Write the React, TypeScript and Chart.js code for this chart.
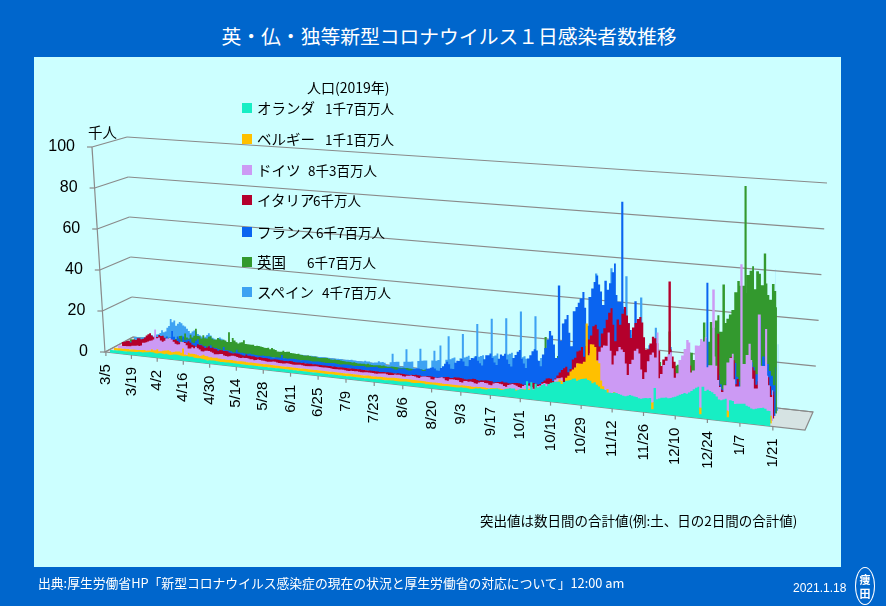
import React, { useEffect, useRef } from "react";
import { Chart, registerables } from "chart.js";

Chart.register(...registerables);

// ===== DATA: daily new cases (thousands), one value per day starting 3/5/2020 (weeks start on Thursday) =====
const nlValues = [
  0.04, 0.07, 0.06, 0.16, 0.08, 0.2, 0.19,
  0.12, 0.19, 0.15, 0.18, 0.28, 0.29, 0.35,
  0.41, 0.53, 0.64, 0.64, 0.55, 0.81, 0.85,
  1.0, 1.2, 1.2, 1.1, 0.85, 0.84, 1.0,
  1.1, 1.0, 0.9, 1.2, 0.95, 0.78, 0.97,
  1.2, 1.3, 1.3, 1.2, 1.0, 0.87, 0.96,
  1.2, 1.1, 1.0, 1.1, 0.75, 0.73, 0.73,
  0.89, 0.66, 0.6, 0.4, 0.17, 0.4, 0.39,
  0.5, 0.45, 0.33, 0.33, 0.2, 0.2, 0.23,
  0.26, 0.32, 0.24, 0.25, 0.2, 0.2, 0.2,
  0.19, 0.22, 0.2, 0.14, 0.1, 0.1, 0.2,
  0.2, 0.15, 0.15, 0.13, 0.1, 0.1, 0.1,
  0.17, 0.1, 0.17, 0.12, 0.1, 0.1, 0.2,
  0.2, 0.2, 0.1, 0.1, 0.1, 0.1, 0.2,
  0.1, 0.2, 0.1, 0.1, 0.1, 0.1, 0.1,
  0.1, 0.1, 0.1, 0.1, 0.1, 0.1, 0.1,
  0.1, 0.1, 0.1, 0.1, 0.1, 0.1, 0.1,
  0.1, 0.1, 0.1, 0.1, 0.1, 0.1, 0.1,
  0.1, 0.1, 0.1, 0.1, 0.1, 0.1, 0.1,
  0.1, 0.1, 0.2, 0.1, 0.1, 0.1, 0.2,
  0.2, 0.3, 0.3, 0.2, 0.2, 0.3, 0.4,
  0.4, 0.4, 0.3, 0.3, 0.3, 0.4, 0.5,
  0.6, 0.6, 0.6, 0.4, 0.4, 0.5, 0.6,
  0.7, 0.6, 0.6, 0.4, 0.5, 0.5, 0.6,
  0.6, 0.6, 0.5, 0.5, 0.4, 0.5, 0.6,
  0.6, 0.5, 0.5, 0.5, 0.5, 0.6, 0.8,
  0.7, 0.8, 0.7, 0.6, 0.6, 0.8, 1.1,
  1.1, 1.3, 1.1, 1.1, 1.1, 1.4, 1.5,
  1.7, 1.8, 2.0, 1.8, 1.6, 1.8, 2.2,
  2.5, 2.8, 2.8, 2.9, 2.1, 2.5, 3.0,
  3.0, 2.8, 6.8, 3.0, 6.5, 3.4, 6.0,
  4.5, 5.0, 5.8, 6.3, 5.5, 6.6, 7.2,
  7.5, 7.9, 8.0, 8.1, 7.2, 8.2, 8.8,
  9.0, 9.4, 10.0, 10.2, 9.3, 9.9, 10.3,
  10.5, 10.8, 10.2, 10.0, 9.0, 9.5, 8.5,
  7.8, 7.0, 6.9, 6.6, 5.6, 5.6, 5.6,
  6.0, 5.8, 5.5, 5.3, 4.9, 4.8, 5.2,
  5.6, 5.4, 5.2, 5.0, 4.6, 4.5, 4.8,
  5.0, 5.0, 5.2, 0.4, 9.8, 5.0, 5.4,
  5.9, 6.0, 6.2, 6.0, 6.2, 6.6, 7.0,
  7.5, 8.0, 8.5, 9.0, 8.8, 9.4, 10.2,
  11.0, 11.8, 12.3, 0.6, 12.5, 10.8, 11.5,
  11.0, 10.6, 10.0, 9.0, 7.8, 7.6, 8.0,
  8.4, 0.6, 8.0, 7.8, 6.6, 6.8, 6.9,
  7.0, 7.2, 6.4, 6.1, 5.4, 5.2, 5.6,
  5.9, 6.1, 6.3, 6.0, 5.3, 5.2, 5.5,
];

const beValues = [
  0.02, 0.01, 0.04, 0.06, 0.07, 0.05, 0.08,
  0.1, 0.17, 0.1, 0.14, 0.2, 0.18, 0.24,
  0.3, 0.46, 0.56, 0.59, 0.34, 0.53, 0.67,
  1.3, 1.0, 1.1, 1.7, 0.82, 0.87, 1.2,
  1.4, 1.5, 1.7, 1.4, 1.0, 1.2, 1.6,
  1.6, 1.7, 1.2, 3.4, 0.6, 0.5, 1.6,
  1.3, 1.3, 1.3, 1.2, 0.9, 0.7, 1.0,
  1.5, 1.0, 1.0, 0.6, 0.6, 0.5, 0.6,
  0.7, 0.5, 0.4, 0.3, 0.4, 0.3, 0.3,
  0.4, 0.4, 0.3, 0.3, 0.2, 0.3, 0.3,
  0.3, 0.3, 0.2, 0.2, 0.2, 0.2, 0.2,
  0.2, 0.2, 0.2, 0.2, 0.1, 0.2, 0.2,
  0.2, 0.2, 0.2, 0.1, 0.1, 0.1, 0.1,
  0.1, 0.1, 0.1, 0.1, 0.1, 0.1, 0.1,
  0.1, 0.1, 0.1, 0.1, 0.1, 0.1, 0.1,
  0.1, 0.1, 0.1, 0.1, 0.1, 0.1, 0.1,
  0.1, 0.1, 0.1, 0.1, 0.1, 0.1, 0.1,
  0.1, 0.1, 0.1, 0.1, 0.1, 0.1, 0.1,
  0.1, 0.1, 0.1, 0.1, 0.1, 0.1, 0.1,
  0.1, 0.2, 0.2, 0.1, 0.1, 0.2, 0.2,
  0.3, 0.3, 0.3, 0.3, 0.3, 0.4, 0.4,
  0.5, 0.5, 0.5, 0.5, 0.5, 0.5, 0.6,
  0.6, 0.6, 0.6, 0.5, 0.5, 0.5, 0.5,
  0.5, 0.5, 0.4, 0.4, 0.4, 0.4, 0.4,
  0.4, 0.4, 0.4, 0.3, 0.3, 0.4, 0.4,
  0.4, 0.4, 0.4, 0.3, 0.3, 0.5, 0.5,
  0.5, 0.5, 0.5, 0.4, 0.4, 0.6, 0.6,
  0.7, 0.7, 0.7, 0.6, 0.5, 0.8, 0.9,
  1.0, 1.0, 1.0, 0.9, 0.7, 1.2, 1.3,
  1.5, 1.4, 1.4, 1.2, 0.9, 1.7, 1.8,
  1.9, 2.0, 2.3, 1.7, 1.1, 2.5, 2.9,
  3.0, 3.5, 4.0, 3.2, 2.5, 4.5, 5.3,
  6.0, 7.0, 8.0, 7.5, 6.5, 9.0, 10.0,
  12, 13, 14, 16, 16, 16, 17,
  34, 20, 25, 25, 24, 18, 17,
  9.5, 7, 5, 6, 3.5, 4, 5,
  4.5, 4.0, 3.5, 3.0, 2.5, 3.0, 3.5,
  3.0, 2.8, 2.5, 2.5, 1.8, 2.5, 2.6,
  2.5, 2.3, 2.2, 2.5, 1.6, 2.0, 2.2,
  2.0, 2.0, 1.9, 1.8, 1.5, 1.9, 2.1,
  2.3, 2.2, 2.1, 2.1, 1.6, 2.2, 2.4,
  2.5, 2.4, 2.3, 2.3, 1.7, 2.4, 2.4,
  2.2, 2.0, 1.8, 1.6, 1.2, 2.1, 2.3,
  2.3, 2.1, 2.0, 1.5, 1.4, 2.3, 2.5,
  2.4, 2.3, 2.1, 1.9, 1.3, 2.3, 2.5,
  2.3, 2.2, 2.0, 1.6, 1.5, 2.2, 2.4,
];

const deValues = [
  0.2, 0.3, 0.1, 0.1, 0.2, 0.2, 0.3,
  0.4, 0.8, 0.9, 1.0, 1.2, 1.0, 1.4,
  2.8, 2.9, 3.3, 3.7, 4.2, 4.4, 5.0,
  10.0, 5.8, 6.3, 4.9, 4.4, 4.9, 6.1,
  6.2, 6.6, 6.0, 4.9, 4.1, 3.8, 4.0,
  5.3, 5.3, 4.9, 3.9, 2.5, 2.5, 3.3,
  2.9, 3.7, 3.0, 2.5, 1.8, 1.8, 2.2,
  2.3, 2.3, 2.0, 1.7, 1.0, 1.2, 1.3,
  1.5, 1.6, 1.0, 0.8, 0.7, 0.9, 1.2,
  1.3, 1.2, 0.9, 0.7, 0.6, 0.9, 0.8,
  0.9, 0.8, 0.6, 0.6, 0.3, 0.5, 0.8,
  0.7, 0.6, 0.5, 0.4, 0.3, 0.4, 0.5,
  0.7, 0.7, 0.4, 0.3, 0.3, 0.2, 0.3,
  0.5, 0.5, 0.4, 0.3, 0.3, 0.4, 0.4,
  0.5, 0.4, 0.3, 0.2, 0.2, 0.3, 0.4,
  0.6, 0.7, 0.6, 0.5, 0.5, 0.5, 0.6,
  0.6, 0.5, 0.4, 0.3, 0.3, 0.4, 0.4,
  0.4, 0.4, 0.3, 0.2, 0.2, 0.4, 0.4,
  0.4, 0.4, 0.3, 0.2, 0.2, 0.4, 0.5,
  0.5, 0.5, 0.4, 0.3, 0.3, 0.5, 0.6,
  0.7, 0.8, 0.6, 0.4, 0.4, 0.6, 0.9,
  0.9, 1.0, 0.8, 0.5, 0.5, 0.9, 1.0,
  1.2, 1.1, 1.0, 0.6, 0.5, 1.2, 1.4,
  1.5, 1.4, 1.4, 0.6, 0.6, 1.4, 1.5,
  1.7, 2.0, 1.6, 0.8, 0.7, 1.5, 1.6,
  1.6, 1.5, 1.4, 0.8, 0.6, 1.4, 1.5,
  1.3, 1.5, 1.4, 0.9, 0.8, 1.5, 1.8,
  1.9, 1.6, 1.5, 1.0, 0.9, 1.7, 2.1,
  2.2, 1.9, 1.8, 1.1, 0.9, 1.8, 2.1,
  2.5, 2.2, 1.9, 1.4, 1.2, 2.1, 2.6,
  2.6, 2.5, 2.1, 1.4, 1.2, 2.8, 3.2,
  4.1, 4.5, 4.3, 3.5, 2.5, 5.0, 6.6,
  7.2, 7.3, 7.8, 5.6, 4.3, 6.9, 7.6,
  11.3, 11.2, 14.7, 11.2, 8.7, 11.4, 14.9,
  18, 20, 22, 21, 17, 21, 23,
  24, 24, 30, 22, 16, 20, 22,
  24, 23, 22, 17, 12, 17, 19,
  23, 24, 22, 15, 11, 14, 19,
  22, 23, 21, 32, 12, 14, 18,
  20, 23, 24, 17, 13, 15, 21,
  23, 26, 30, 29, 16, 17, 28,
  28, 31, 30, 32, 19, 20, 53,
  24, 20, 14, 11, 9, 12, 22,
  24, 26, 15, 12, 65, 12, 22,
  26, 31, 24, 16, 12, 44, 22,
  22, 38, 18, 14, 9, 12, 17,
];

const itValues = [
  0.8, 0.8, 1.2, 1.5, 1.8, 1.0, 2.3,
  2.7, 2.5, 3.5, 3.6, 3.2, 3.5, 4.2,
  5.3, 6.0, 6.6, 5.6, 4.8, 5.2, 5.2,
  6.2, 5.9, 6.0, 5.2, 4.1, 4.1, 4.8,
  4.7, 4.6, 4.8, 4.3, 3.6, 3.0, 3.8,
  4.2, 4.0, 4.7, 4.1, 3.2, 3.0, 2.7,
  3.8, 3.5, 3.5, 3.0, 2.3, 2.7, 3.4,
  2.6, 3.0, 2.4, 2.3, 1.7, 2.1, 2.1,
  1.9, 2.0, 1.9, 1.4, 1.2, 1.1, 1.4,
  1.4, 1.3, 1.1, 0.8, 0.7, 1.4, 0.9,
  1.0, 0.8, 0.9, 0.7, 0.5, 0.8, 0.7,
  0.6, 0.7, 0.7, 0.5, 0.3, 0.4, 0.6,
  0.6, 0.5, 0.4, 0.4, 0.2, 0.3, 0.3,
  0.5, 0.5, 0.3, 0.3, 0.2, 0.3, 0.2,
  0.4, 0.2, 0.3, 0.3, 0.3, 0.2, 0.3,
  0.3, 0.3, 0.3, 0.2, 0.2, 0.2, 0.2,
  0.3, 0.2, 0.3, 0.2, 0.1, 0.2, 0.2,
  0.2, 0.2, 0.2, 0.2, 0.2, 0.2, 0.2,
  0.2, 0.3, 0.2, 0.2, 0.1, 0.1, 0.2,
  0.2, 0.2, 0.2, 0.2, 0.1, 0.2, 0.3,
  0.3, 0.3, 0.3, 0.3, 0.2, 0.2, 0.4,
  0.4, 0.4, 0.3, 0.2, 0.2, 0.2, 0.4,
  0.4, 0.6, 0.5, 0.5, 0.3, 0.4, 0.5,
  0.6, 0.6, 0.6, 0.5, 0.3, 0.4, 0.6,
  0.8, 0.9, 1.1, 1.2, 0.9, 1.0, 1.4,
  1.4, 1.5, 1.4, 1.3, 1.0, 1.0, 1.3,
  1.4, 1.7, 1.7, 1.3, 1.1, 1.4, 1.4,
  1.6, 1.6, 1.5, 1.5, 1.0, 1.2, 1.5,
  1.6, 1.9, 1.6, 1.6, 1.4, 1.4, 1.6,
  1.8, 1.9, 1.9, 1.8, 1.5, 1.6, 1.9,
  2.5, 2.8, 2.8, 2.6, 2.3, 2.7, 3.7,
  4.5, 5.4, 5.7, 5.5, 4.6, 5.9, 7.3,
  8.8, 10.0, 10.9, 11.7, 9.3, 10.9, 15.2,
  16.1, 19.1, 19.6, 21.3, 17.0, 21.9, 24.9,
  26.8, 31.1, 31.8, 29.9, 22.3, 28.2, 30.6,
  34.5, 37.8, 39.8, 32.6, 25.3, 35.1, 32.9,
  37.9, 40.9, 37.3, 33.9, 27.4, 32.2, 34.3,
  36.2, 37.2, 34.8, 28.3, 22.9, 23.2, 25.9,
  29.0, 28.4, 26.3, 23.0, 16.4, 19.4, 20.7,
  54.0, 24.1, 21.1, 18.9, 14.0, 12.9, 16.9,
  16.7, 18.7, 19.9, 17.9, 12.0, 14.8, 17.6,
  18.2, 17.0, 16.3, 15.1, 10.9, 13.3, 14.5,
  18.0, 33.0, 10.4, 8.9, 8.6, 11.2, 16.2,
  23.5, 22.2, 11.8, 14.2, 10.8, 15.4, 20.3,
  18.0, 17.5, 19.9, 18.6, 12.5, 14.2, 15.8,
  17.2, 16.1, 16.3, 12.5, 8.8, 10.5, 13.5,
];

const frValues = [
  0.1, 0.1, 0.2, 0.1, 0.3, 0.4, 0.5,
  0.6, 0.8, 0.8, 0.9, 1.2, 1.1, 1.4,
  1.6, 1.6, 1.8, 1.6, 3.8, 2.4, 2.9,
  3.9, 3.8, 4.6, 2.6, 4.4, 7.6, 4.9,
  2.1, 5.2, 4.2, 1.9, 5.5, 3.8, 4.2,
  4.3, 4.8, 3.1, 2.9, 4.1, 5.0, 2.6,
  2.6, 1.9, 2.0, 1.3, 2.4, 2.7, 1.8,
  1.5, 1.6, 1.3, 1.1, 0.6, 2.5, 1.0,
  1.2, 1.0, 0.9, 0.4, 0.5, 1.9, 0.8,
  0.6, 0.7, 0.6, 0.4, 0.5, 0.8, 0.5,
  0.5, 0.3, 0.3, 0.2, 0.3, 0.5, 0.4,
  0.4, 0.4, 0.3, 0.2, 0.2, 0.4, 0.3,
  0.3, 1.8, 0.3, 0.4, 0.3, 0.5, 0.5,
  0.6, 0.5, 0.4, 0.4, 0.3, 0.5, 0.5,
  0.5, 0.5, 0.4, 0.3, 0.3, 0.5, 0.5,
  0.5, 0.4, 0.4, 0.3, 0.3, 0.5, 0.5,
  0.6, 0.5, 0.4, 0.3, 0.4, 0.6, 0.5,
  0.6, 0.6, 0.5, 0.4, 0.4, 0.6, 0.6,
  0.7, 0.8, 0.6, 0.4, 0.5, 0.7, 0.8,
  0.9, 1.1, 0.8, 0.6, 0.7, 1.0, 1.1,
  1.2, 1.4, 1.1, 0.8, 0.8, 1.4, 1.5,
  1.6, 1.7, 1.3, 1.0, 1.1, 1.7, 2.0,
  2.3, 2.5, 2.2, 1.5, 1.6, 2.7, 3.0,
  3.4, 3.8, 3.3, 2.5, 2.4, 3.8, 4.7,
  6.0, 7.0, 6.0, 4.0, 4.0, 7.0, 8.0,
  8.0, 9.0, 8.0, 6.0, 6.0, 9.0, 10.0,
  10.0, 11.0, 9.0, 8.0, 7.0, 10.0, 12.0,
  12.0, 13.0, 11.0, 9.0, 8.0, 11.0, 13.0,
  12.5, 13.5, 11.0, 9.0, 8.0, 12.0, 13.5,
  15.0, 16.0, 12.0, 10.0, 8.0, 12.5, 14.0,
  16.0, 17.0, 16.5, 12.0, 9.5, 15.0, 18.0,
  22.0, 26.0, 24.0, 20.0, 14.0, 47.0, 22.0,
  30.0, 32.0, 34.0, 26.0, 20.0, 36.0, 38.0,
  40.0, 42.0, 45.0, 38.0, 30.0, 43.0, 47.0,
  50.0, 53.0, 49.0, 46.0, 40.0, 51.0, 47.0,
  50.0, 55.0, 59.0, 45.0, 42.0, 87.0, 40.0,
  39.0, 36.0, 33.0, 30.0, 25.0, 43.0, 28.0,
  28.0, 26.0, 22.0, 18.0, 12.0, 24.0, 20.0,
  18.0, 14.0, 12.0, 10.0, 9.0, 13.0, 12.0,
  12.0, 13.0, 11.0, 9.0, 8.0, 12.0, 14.0,
  14.0, 13.0, 12.0, 11.0, 9.0, 15.0, 17.0,
  17.0, 18.0, 54.0, 13.0, 10.0, 15.0, 15.0,
  16.0, 14.0, 10.0, 8.0, 6.0, 12.0, 15.0,
  18.0, 20.0, 14.0, 12.0, 8.0, 18.0, 20.0,
  22.0, 21.0, 19.0, 16.0, 41.0, 18.0, 24.0,
  22.0, 21.0, 18.0, 16.0, 12.0, 20.0, 37.0,
];

const ukValues = [
  0.05, 0.05, 0.05, 0.06, 0.05, 0.07, 0.07,
  0.13, 0.2, 0.2, 0.4, 0.4, 0.4, 0.7,
  0.7, 1.0, 1.0, 1.0, 1.0, 1.4, 1.5,
  2.1, 2.9, 2.5, 2.4, 2.6, 2.6, 3.0,
  4.3, 4.5, 3.7, 5.9, 4.0, 3.6, 5.5,
  4.3, 5.2, 8.7, 5.3, 5.3, 4.3, 6.0,
  4.6, 4.6, 5.5, 5.8, 4.7, 4.3, 4.5,
  5.4, 4.9, 4.5, 4.8, 4.5, 3.9, 8.8,
  4.1, 6.2, 5.0, 4.3, 3.8, 4.4, 4.6,
  5.6, 3.9, 3.9, 3.9, 3.9, 4.0, 3.4,
  3.6, 3.6, 3.5, 3.4, 3.1, 3.1, 3.3,
  2.7, 3.3, 2.9, 2.6, 2.0, 2.0, 2.0,
  2.6, 2.1, 2.4, 2.4, 2.0, 1.9, 1.9,
  1.8, 2.0, 1.6, 1.6, 1.3, 1.4, 1.6,
  1.5, 1.4, 1.4, 1.5, 1.2, 1.1, 1.2,
  1.3, 1.3, 1.5, 1.2, 0.9, 0.9, 1.1,
  1.0, 1.1, 1.0, 0.8, 0.8, 0.7, 0.8,
  0.8, 0.6, 0.8, 0.6, 0.4, 0.6, 0.6,
  0.6, 0.5, 0.8, 0.6, 0.5, 0.5, 0.5,
  0.6, 0.8, 0.6, 0.8, 0.6, 0.5, 0.6,
  0.8, 0.8, 0.7, 0.7, 0.6, 0.6, 0.8,
  0.8, 0.9, 0.8, 0.7, 0.7, 0.7, 0.9,
  0.9, 1.0, 0.8, 1.1, 0.9, 0.9, 1.1,
  1.0, 1.1, 1.0, 1.0, 0.7, 0.8, 1.2,
  1.2, 1.1, 1.0, 1.3, 1.1, 1.0, 1.1,
  1.3, 1.1, 1.5, 1.7, 1.3, 1.4, 1.5,
  1.9, 1.8, 2.9, 2.3, 2.5, 2.7, 3.5,
  3.0, 3.5, 3.3, 3.2, 3.0, 3.1, 3.4,
  3.4, 4.2, 4.3, 3.9, 4.3, 4.9, 6.2,
  6.6, 6.9, 6.0, 5.7, 4.0, 7.1, 7.1,
  6.9, 6.9, 7.0, 7.0, 12.9, 22.0, 14.2,
  17.5, 13.9, 15.2, 12.9, 13.9, 17.2, 19.7,
  18.9, 15.7, 16.2, 16.9, 18.8, 21.3, 26.7,
  21.2, 23.0, 19.8, 20.9, 20.9, 22.9, 24.7,
  23.1, 24.4, 21.9, 23.3, 18.9, 20.0, 25.2,
  24.1, 23.3, 24.9, 21.4, 21.4, 20.4, 22.9,
  33.5, 27.3, 26.9, 24.9, 21.4, 20.0, 19.6,
  22.9, 20.3, 19.9, 18.7, 15.5, 11.3, 18.2,
  17.6, 16.0, 15.9, 12.3, 12.2, 13.4, 30.0,
  16.2, 15.5, 15.0, 15.5, 14.7, 12.3, 16.6,
  19.0, 21.5, 21.5, 18.4, 20.3, 18.5, 25.2,
  35.4, 28.5, 27.1, 35.9, 33.4, 36.8, 39.2,
  32.0, 53.0, 36.0, 38.0, 40.0, 42.0, 50.0,
  55.0, 53.0, 97.0, 50.0, 58.0, 60.0, 62.0,
  52.0, 60.0, 59.0, 54.0, 68.0, 55.0, 50.0,
  48.0, 55.0, 52.0, 45.0, 41.0, 50.0, 55.0,
];

const esValues = [
  0.05, 0.1, 0.1, 0.1, 0.2, 0.4, 0.6,
  0.9, 0.8, 1.5, 2.0, 1.4, 1.9, 2.5,
  2.8, 3.5, 5.0, 4.0, 4.5, 6.5, 7.5,
  11.0, 9.5, 10.5, 8.0, 9.0, 10.0, 9.5,
  8.5, 8.0, 7.0, 6.0, 5.0, 6.0, 6.5,
  6.0, 5.0, 4.5, 4.0, 3.5, 4.0, 5.0,
  6.0, 5.0, 4.0, 3.5, 2.5, 4.0, 4.5,
  4.0, 3.5, 3.0, 2.0, 1.5, 2.0, 2.5,
  2.0, 1.5, 1.5, 1.0, 1.0, 1.0, 1.2,
  1.2, 1.1, 1.0, 0.8, 0.6, 0.6, 0.5,
  0.6, 0.5, 0.5, 0.4, 0.3, 0.4, 0.5,
  0.5, 0.5, 0.3, 0.3, 0.3, 0.3, 0.4,
  0.3, 0.4, 0.3, 0.2, 0.3, 0.3, 0.4,
  0.3, 0.4, 0.3, 0.3, 0.3, 0.3, 0.4,
  0.3, 0.4, 0.3, 0.3, 0.3, 0.3, 0.4,
  0.4, 0.4, 0.3, 0.3, 0.3, 0.3, 0.4,
  0.4, 0.4, 0.3, 0.3, 0.4, 0.4, 0.6,
  0.4, 0.5, 0.3, 0.3, 0.4, 0.4, 0.9,
  0.6, 0.7, 0.4, 0.4, 0.6, 0.7, 1.4,
  1.0, 1.2, 1.0, 0, 0, 1.5, 5.6,
  1.8, 2.0, 2.2, 0, 0, 2.5, 8.5,
  2.7, 2.8, 3.0, 0, 0, 3.5, 9.4,
  3.8, 4.0, 4.2, 0, 0, 4.5, 9.1,
  4.5, 5.0, 11.9, 0, 0, 5.5, 16.7,
  6.0, 6.5, 7.0, 0, 0, 7.0, 18.4,
  7.5, 8.0, 8.5, 0, 0, 8.5, 23.7,
  8.5, 9.0, 9.5, 0, 0, 9.0, 26.8,
  9.5, 10.0, 11.0, 0, 0, 10.0, 27.7,
  11.0, 11.5, 12.0, 0, 0, 10.5, 31.5,
  10.5, 11.0, 10.0, 0, 0, 10.0, 30.0,
  10.0, 9.5, 11.0, 0, 0, 10.5, 23.0,
  12.0, 12.5, 5.0, 0, 0, 7.0, 28.0,
  13.0, 15.0, 15.5, 0, 0, 16.0, 40.0,
  20.0, 20.0, 19.5, 0, 0, 18.5, 52.0,
  23.0, 25.0, 22.0, 0, 0, 21.0, 55.0,
  22.0, 21.5, 25.0, 0, 0, 17.0, 52.0,
  19.0, 19.5, 15.0, 0, 0, 13.0, 43.0,
  15.0, 16.0, 10.0, 0, 0, 12.0, 30.0,
  10.5, 11.0, 9.0, 0, 0, 8.0, 22.0,
  8.0, 10.0, 2.0, 0, 0, 6.0, 20.0,
  8.5, 9.0, 8.0, 0, 0, 11.0, 22.0,
  11.5, 12.0, 11.0, 0, 0, 10.0, 24.0,
  10.0, 7.5, 5.0, 0, 0, 6.0, 24.0,
  12.0, 15.0, 3.0, 0, 0, 11.0, 24.0,
  21.0, 23.0, 25.0, 0, 0, 25.0, 35.0,
  35.0, 38.0, 61.0, 0, 0, 28.0, 34.0,
];

const seriesNames = ["オランダ", "ベルギー", "ドイツ", "イタリア", "フランス", "英国", "スペイン"];
const seriesPopulation = ["1千7百万人", "1千1百万人", "8千3百万人", "6千万人", "6千7百万人", "6千7百万人", "4千7百万人"];
const seriesValues = [nlValues, beValues, deValues, itValues, frValues, ukValues, esValues];

const categoryCount = 336; // 3/5/2020 .. 2/4/2021 on the category axis
const dayLabels = Array.from({ length: categoryCount }, (_, i) => {
  const d = new Date(2020, 2, 5 + i);
  return `${d.getMonth() + 1}/${d.getDate()}`;
});
const xLabelStep = 14;
const xLastLabel = 322; // 1/21
const yMax = 100;
const yStep = 20;

// ===== STYLE / LAYOUT =====
const seriesColors = ["#17EEC4", "#FFC000", "#CC9AF4", "#B4002C", "#0A64F0", "#33992E", "#3EA2F2"];
const GRID = "#8A8A8A";
const FLOOR = "#D6E3E3";
const BOX = {
  fl: [105, 352], fr: [805, 430], bl: [133, 337], br: [813, 412],
  vfl: [-13, -205], vfr: [13, -238], vbl: [-6, -200], vbr: [14, -229],
  persp: 1.15,
};
const ROWS = 7;
const legendRowY = [107.7, 139, 169.5, 200, 231.5, 261.7, 292.3];
const legendPopX = [325, 325, 308, 313, 316, 307, 322];

function lerp(a: number, b: number, t: number) {
  return a + (b - a) * t;
}
function project(u: number, w: number, h: number) {
  const r = BOX.persp;
  const uu = u / (r - (r - 1) * u);
  const fx = lerp(BOX.fl[0], BOX.fr[0], uu), fy = lerp(BOX.fl[1], BOX.fr[1], uu);
  const bx = lerp(BOX.bl[0], BOX.br[0], uu), by = lerp(BOX.bl[1], BOX.br[1], uu);
  const fvx = lerp(BOX.vfl[0], BOX.vfr[0], uu), fvy = lerp(BOX.vfl[1], BOX.vfr[1], uu);
  const bvx = lerp(BOX.vbl[0], BOX.vbr[0], uu), bvy = lerp(BOX.vbl[1], BOX.vbr[1], uu);
  return {
    x: lerp(fx, bx, w) + lerp(fvx, bvx, w) * h,
    y: lerp(fy, by, w) + lerp(fvy, bvy, w) * h,
  };
}

// Re-projects every point computed by the scales into the 3D box.
const projection = {
  id: "projection3d",
  afterDatasetsUpdate(chart: any) {
    const xs = chart.scales.x, ys = chart.scales.y;
    chart.data.datasets.forEach((ds: any, di: number) => {
      const meta = chart.getDatasetMeta(di);
      const w = ds.part === "top" ? (ds.row + 1) / ROWS : ds.row / ROWS;
      meta.data.forEach((pt: any) => {
        const u = (pt.x - xs.left) / (xs.right - xs.left);
        const h = (ys.bottom - pt.y) / (ys.bottom - ys.top);
        const p = project(u, w, h);
        pt.x = p.x;
        pt.y = p.y;
      });
    });
  },
};

// Draws floor, walls, gridlines and axis labels using the chart's scales.
const frame3d = {
  id: "frame3d",
  beforeDatasetsDraw(chart: any) {
    const ctx = chart.ctx;
    const xs = chart.scales.x, ys = chart.scales.y;
    const hOf = (v: number) => (ys.bottom - ys.getPixelForValue(v)) / (ys.bottom - ys.top);
    const uOf = (i: number) => (xs.getPixelForValue(i) - xs.left) / (xs.right - xs.left);
    const line = (a: any, b: any) => {
      ctx.beginPath();
      ctx.moveTo(a.x, a.y);
      ctx.lineTo(b.x, b.y);
      ctx.stroke();
    };
    ctx.save();
    const f = [project(0, 0, 0), project(1, 0, 0), project(1, 1, 0), project(0, 1, 0)];
    ctx.beginPath();
    f.forEach((p, i) => (i ? ctx.lineTo(p.x, p.y) : ctx.moveTo(p.x, p.y)));
    ctx.closePath();
    ctx.fillStyle = FLOOR;
    ctx.fill();
    ctx.strokeStyle = GRID;
    ctx.lineWidth = 1.2;
    ctx.stroke();
    ctx.font = '16px "Liberation Sans", Arial, sans-serif';
    ctx.fillStyle = "#000";
    ctx.textAlign = "right";
    ctx.textBaseline = "middle";
    const ticks = ys.ticks && ys.ticks.length ? ys.ticks.map((t: any) => t.value) : [0, 20, 40, 60, 80, 100];
    ticks.forEach((v: number) => {
      const h = hOf(v);
      const a = project(0, 0, h), b = project(0, 1, h), c = project(1, 1, h);
      line(a, b);
      line(b, c);
      line({ x: a.x - 5, y: a.y }, a);
      ctx.fillText(String(v), a.x - 17, a.y);
    });
    line(project(0, 0, 0), project(0, 0, 1));
    ctx.font = '15px "Liberation Sans", Arial, sans-serif';
    for (let i = 0; i <= xLastLabel; i += xLabelStep) {
      const p = project(uOf(i), 0, 0);
      line(p, { x: p.x, y: p.y + 4 });
      ctx.save();
      ctx.translate(p.x, p.y + 12);
      ctx.rotate(-Math.PI / 2);
      ctx.textAlign = "right";
      ctx.textBaseline = "middle";
      ctx.fillText(xs.getLabelForValue(i), 0, 0);
      ctx.restore();
    }
    ctx.restore();
  },
};

export default function App() {
  const canvasRef = useRef<HTMLCanvasElement | null>(null);

  useEffect(() => {
    const canvas = canvasRef.current;
    if (!canvas) return;
    const datasets: any[] = [];
    seriesValues.forEach((vals, i) => {
      datasets.push({
        label: seriesNames[i],
        data: vals,
        row: i,
        part: "top",
        backgroundColor: seriesColors[i],
        borderColor: seriesColors[i],
        borderWidth: 0,
        pointRadius: 0,
        fill: "+1",
        stepped: "middle",
        clip: false,
      });
      datasets.push({
        label: seriesNames[i] + "-floor",
        data: vals.map(() => 0),
        row: i,
        part: "base",
        backgroundColor: "rgba(0,0,0,0)",
        borderWidth: 0,
        pointRadius: 0,
        fill: false,
        stepped: "middle",
        clip: false,
      });
    });
    const chart = new Chart(canvas, {
      type: "line",
      data: { labels: dayLabels, datasets },
      options: {
        animation: false,
        responsive: true,
        maintainAspectRatio: false,
        events: [],
        layout: { padding: 0 },
        scales: {
          x: { type: "category", display: false, offset: true },
          y: { min: 0, max: yMax, display: false, ticks: { stepSize: yStep } },
        },
        plugins: { legend: { display: false }, tooltip: { enabled: false } },
      } as any,
      plugins: [projection, frame3d],
    });
    return () => chart.destroy();
  }, []);

  const jp = '"Noto Sans CJK JP", "Noto Sans", sans-serif';

  return (
    <div style={{ position: "fixed", left: 0, top: 0, width: 886, height: 606, background: "#0066CC", overflow: "hidden", fontFamily: jp }}>
      <div style={{ position: "absolute", left: 6, top: 21, width: 886, textAlign: "center", color: "#fff", fontSize: 19.8, lineHeight: "30px" }}>
        英・仏・独等新型コロナウイルス１日感染者数推移
      </div>
      <div style={{ position: "absolute", left: 34, top: 57, width: 807, height: 510, background: "#CCFFFF" }} />
      <div style={{ position: "absolute", left: 0, top: 0, width: 886, height: 606 }}>
        <canvas ref={canvasRef} />
      </div>
      <div style={{ position: "absolute", left: 88, top: 122, fontSize: 14.5, lineHeight: "20px", color: "#000" }}>千人</div>
      <div style={{ position: "absolute", left: 307, top: 77, fontSize: 14, lineHeight: "20px", color: "#000" }}>人口(2019年)</div>
      {seriesNames.map((name, i) => (
        <React.Fragment key={name}>
          <div style={{ position: "absolute", left: 242, top: legendRowY[i] - 5, width: 10, height: 10, background: seriesColors[i] }} />
          <div style={{ position: "absolute", left: 257, top: legendRowY[i] - 11, fontSize: 14.5, lineHeight: "22px", color: "#000", whiteSpace: "nowrap" }}>{name}</div>
          <div style={{ position: "absolute", left: legendPopX[i], top: legendRowY[i] - 11, fontSize: 13.5, lineHeight: "22px", color: "#000", whiteSpace: "nowrap" }}>{seriesPopulation[i]}</div>
        </React.Fragment>
      ))}
      <div style={{ position: "absolute", left: 480, top: 510, fontSize: 13.5, lineHeight: "20px", color: "#000", whiteSpace: "nowrap" }}>
        突出値は数日間の合計値(例:土、日の2日間の合計値)
      </div>
      <div style={{ position: "absolute", left: 38, top: 573, fontSize: 12.8, lineHeight: "20px", color: "#fff", whiteSpace: "nowrap" }}>
        出典:厚生労働省HP「新型コロナウイルス感染症の現在の状況と厚生労働省の対応について」12:00 am
      </div>
      <div style={{ position: "absolute", left: 793, top: 580, fontSize: 12, lineHeight: "16px", color: "#fff", fontFamily: '"Liberation Sans", Arial, sans-serif' }}>
        2021.1.18
      </div>
      <div style={{ position: "absolute", left: 855, top: 567, width: 18, height: 36, border: "1.5px solid #fff", borderRadius: "50%", color: "#fff", fontSize: 11, lineHeight: "14px", fontWeight: 700, textAlign: "center", display: "flex", flexDirection: "column", justifyContent: "center" }}>
        <span>痩</span>
        <span>田</span>
      </div>
    </div>
  );
}
